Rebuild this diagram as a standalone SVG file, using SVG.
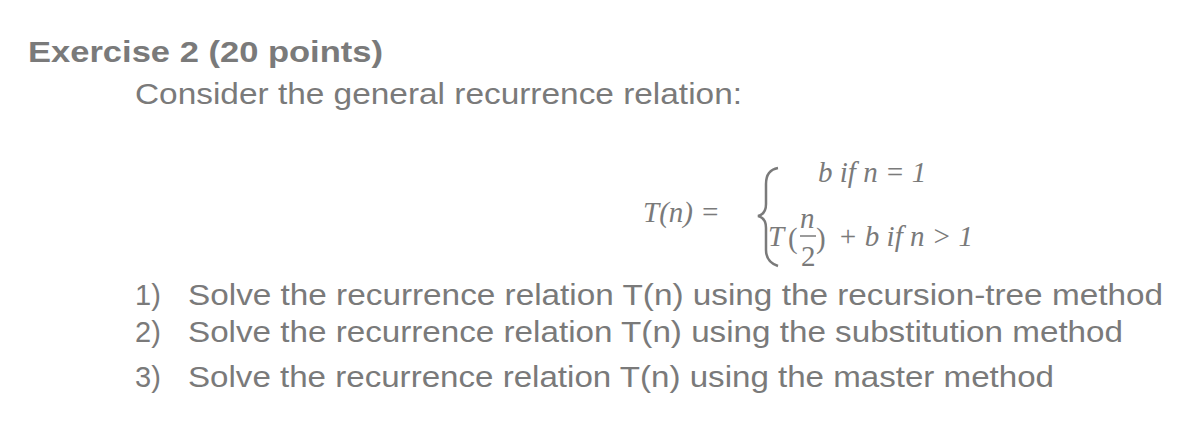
<svg xmlns="http://www.w3.org/2000/svg" width="1192" height="430" viewBox="0 0 1192 430">
<style>
.s{font-family:"Liberation Sans",Arial,sans-serif;fill:#7a7a7a;font-size:29px}
.m{font-family:"Liberation Serif","DejaVu Serif",serif;fill:#7a7a7a;font-size:29px;font-style:italic}
.r{font-family:"Liberation Serif","DejaVu Serif",serif;fill:#7a7a7a;font-size:29px}
</style>
<rect width="1192" height="430" fill="#fff"/>
<text class="s" x="28" y="62" font-weight="bold" textLength="355" lengthAdjust="spacingAndGlyphs">Exercise 2 (20 points)</text>
<text class="s" x="135" y="104" textLength="607" lengthAdjust="spacingAndGlyphs">Consider the general recurrence relation:</text>
<g id="formula">
<text class="m" x="643" y="222">T<tspan class="r">(</tspan>n<tspan class="r">) =</tspan></text>
<path d="M778,168 Q766,170 766,184 L766,204 Q766,214 758,216 Q766,218 766,228 L766,250 Q766,262 778,266" fill="none" stroke="#7a7a7a" stroke-width="2.5"/>
<text class="m" x="818" y="182">b  if <tspan>n</tspan><tspan class="r"> = 1</tspan></text>
<text class="m" x="768" y="246">T</text>
<text class="r" x="788" y="248" font-size="40">(</text>
<text class="m" x="800" y="228" font-size="24">n</text>
<line x1="800" y1="236" x2="816" y2="236" stroke="#7a7a7a" stroke-width="1.5"/>
<text class="r" x="801" y="266" font-size="24">2</text>
<text class="r" x="816" y="248" font-size="40">)</text>
<text class="m" x="838" y="246"><tspan class="r">+ </tspan>b if n <tspan class="r">&gt; 1</tspan></text>
</g>
<text class="s" x="135" y="305">1)</text>
<text class="s" x="188" y="305" textLength="975" lengthAdjust="spacingAndGlyphs">Solve the recurrence relation T(n) using the recursion-tree method</text>
<text class="s" x="135" y="342">2)</text>
<text class="s" x="188" y="342" textLength="935" lengthAdjust="spacingAndGlyphs">Solve the recurrence relation T(n) using the substitution method</text>
<text class="s" x="135" y="387">3)</text>
<text class="s" x="188" y="387" textLength="866" lengthAdjust="spacingAndGlyphs">Solve the recurrence relation T(n) using the master method</text>
</svg>
